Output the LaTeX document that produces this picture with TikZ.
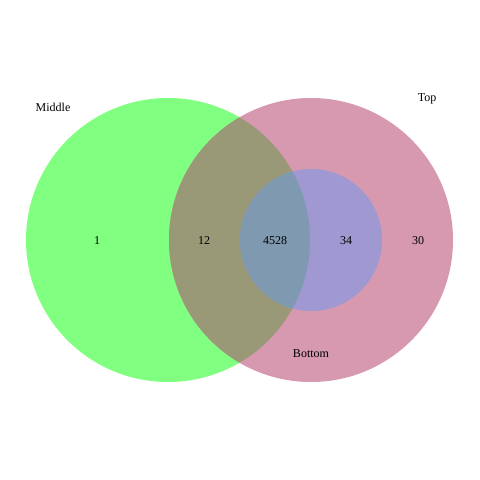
\documentclass[tikz,border=0pt]{standalone}
\usepackage{fontspec}
\setmainfont{Liberation Serif}
\definecolor{midgreen}{HTML}{80FF80}
\definecolor{toppink}{HTML}{D699B0}
\definecolor{mtolive}{HTML}{999977}
\definecolor{botlav}{HTML}{A098D0}
\definecolor{allsteel}{HTML}{7F99B0}
\begin{document}
\begin{tikzpicture}[x=1pt,y=-1pt,font=\fontsize{12}{14}\selectfont]
        \useasboundingbox (0,0) rectangle (480,480);
        \draw [draw=none, fill=midgreen] (168,240) circle (142);
        \draw [draw=none, fill=toppink] (311,240) circle (142);
        \begin{scope}
            \clip (168,240) circle (142);
            \draw [draw=none, fill=mtolive] (311,240) circle (142);
        \end{scope}
        \draw [draw=none, fill=botlav] (311,240) circle (71);
        \begin{scope}
            \clip (168,240) circle (142);
            \draw [draw=none, fill=allsteel] (311,240) circle (71);
        \end{scope}
        \node (middle) at (53,107) {Middle};
        \node (top) at (427,99) {Top};
        \node (bottom) at (311,354) {Bottom};
        \node (m) at (97,241) {1};
        \node (mt) at (204,241) {12};
        \node (mtb) at (275,241) {4528};
        \node (tb) at (346,241) {34};
        \node (t) at (418,241) {30};
        \end{tikzpicture}
\end{document}
